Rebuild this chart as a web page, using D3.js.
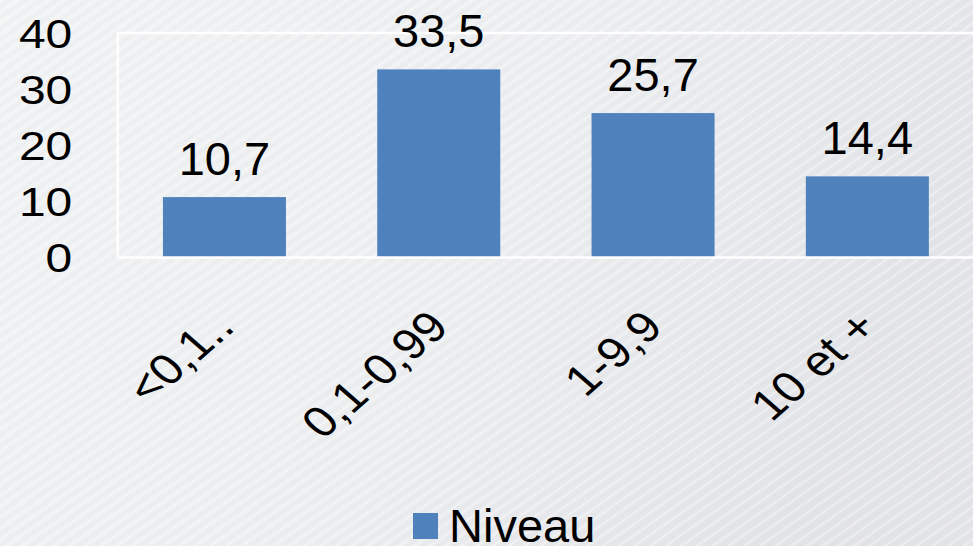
<!DOCTYPE html>
<html>
<head>
<meta charset="utf-8">
<script src="https://cdn.jsdelivr.net/npm/d3@7/dist/d3.min.js"></script>
<style>
  html, body { margin: 0; padding: 0; background: #eceef0; }
  svg { display: block; }
  text { font-family: "Liberation Sans", Arial, sans-serif; fill: #000; }
</style>
</head>
<body>
<svg id="chart" width="973" height="546"></svg>
<script>
const categories = ["<0,1..", "0,1-0,99", "1-9,9", "10 et +"];
const values = [10.7, 33.5, 25.7, 14.4];
const yTicks = [0, 10, 20, 30, 40];
const seriesName = "Niveau";

const W = 973, H = 546;
const svg = d3.select("#chart");
const defs = svg.append("defs");

// background gradient + diagonal streak texture
const grad = defs.append("linearGradient").attr("id", "bg")
  .attr("x1", "0%").attr("y1", "0%").attr("x2", "100%").attr("y2", "30%");
grad.append("stop").attr("offset", "0%").attr("stop-color", "#f1f2f3");
grad.append("stop").attr("offset", "55%").attr("stop-color", "#eceef0");
grad.append("stop").attr("offset", "100%").attr("stop-color", "#e3e4e8");

const pat = defs.append("pattern").attr("id", "streaks")
  .attr("width", 9).attr("height", 9)
  .attr("patternUnits", "userSpaceOnUse")
  .attr("patternTransform", "rotate(-35)");
pat.append("rect").attr("width", 9).attr("height", 2).attr("fill", "#ffffff").attr("opacity", 0.35);
pat.append("rect").attr("y", 5).attr("width", 9).attr("height", 1).attr("fill", "#d8d9dd").attr("opacity", 0.25);

svg.append("rect").attr("width", W).attr("height", H).attr("fill", "url(#bg)");
svg.append("rect").attr("width", W).attr("height", H).attr("fill", "url(#streaks)");

const plotLeft = 117.3, plotRight = 974.5, plotTop = 33, plotBottom = 257;

const x = d3.scaleBand().domain(categories).range([plotLeft, plotRight])
  .paddingInner(0.426).paddingOuter(0.213);
const y = d3.scaleLinear().domain([0, 40]).range([plotBottom, plotTop]);

const fr = d3.formatLocale({decimal: ",", thousands: " ", grouping: [3], currency: ["", " €"]});
const fmt = fr.format(".1f");

// bars
svg.append("g").selectAll("rect").data(values).join("rect")
  .attr("x", (d, i) => x(categories[i]))
  .attr("width", x.bandwidth())
  .attr("y", d => y(d))
  .attr("height", d => y(0) - y(d))
  .attr("fill", "#4f81bd");

// top border
svg.append("line")
  .attr("x1", plotLeft).attr("x2", plotRight)
  .attr("y1", y(40)).attr("y2", y(40))
  .attr("stroke", "#ffffff").attr("stroke-width", 2.5);

// y axis
const yAxis = svg.append("g").attr("transform", `translate(${plotLeft},0)`)
  .call(d3.axisLeft(y).tickValues(yTicks).tickSize(0).tickPadding(45).tickFormat(d3.format("d")));
yAxis.select(".domain").attr("stroke", "#ffffff").attr("stroke-width", 2.5);
yAxis.selectAll(".tick text")
  .attr("x", null).attr("dy", "0.35em")
  .attr("transform", "translate(-45,0) scale(1.2,1)")
  .style("font-size", "40px").style("font-family", "'Liberation Sans', Arial, sans-serif")
  .attr("fill", "#000");

// x axis
const xAxis = svg.append("g").attr("transform", `translate(0,${plotBottom})`)
  .call(d3.axisBottom(x).tickSize(0).tickFormat(""));
xAxis.select(".domain").attr("stroke", "#ffffff").attr("stroke-width", 2.5);
xAxis.selectAll(".tick text").remove();
xAxis.selectAll(".tick").append("text")
  .attr("text-anchor", "end")
  .attr("transform", "translate(12,72) scale(1.15,1) rotate(-45)")
  .style("font-size", "43px").style("font-family", "'Liberation Sans', Arial, sans-serif")
  .attr("fill", "#000")
  .text(d => d);

// data labels
svg.append("g").selectAll("text").data(values).join("text")
  .attr("x", (d, i) => x(categories[i]) + x.bandwidth() / 2)
  .attr("y", d => y(d) - 22)
  .attr("text-anchor", "middle")
  .style("font-size", "47px")
  .text(d => fmt(d));

// legend
const leg = svg.append("g").attr("transform", "translate(413,513)");
leg.append("rect").attr("width", 25).attr("height", 26).attr("fill", "#4f81bd");
leg.append("text").attr("x", 36).attr("y", 29).style("font-size", "47px").text(seriesName);
</script>
</body>
</html>
